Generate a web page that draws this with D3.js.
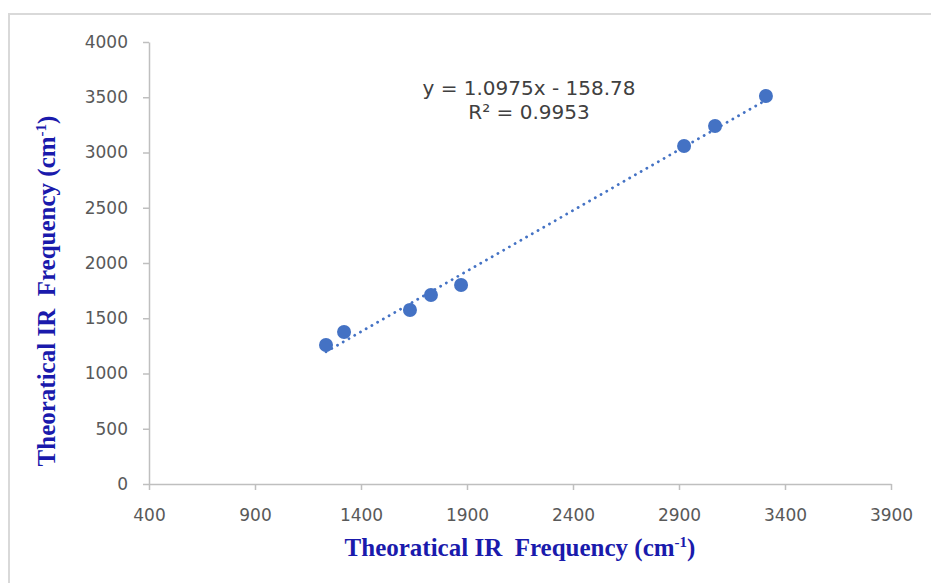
<!DOCTYPE html>
<html>
<head>
<meta charset="utf-8">
<script src="https://cdn.jsdelivr.net/npm/d3@7"></script>
<style>
  body { margin: 0; background: #fff; }
</style>
</head>
<body>
<svg id="chart"></svg>
<script>
// data
const expFreq = [1235, 1320, 1631, 1730, 1872, 2924, 3070, 3310];
const theoFreq = [1258, 1376, 1575, 1710, 1801, 3059, 3240, 3511];
const xTicks = [400, 900, 1400, 1900, 2400, 2900, 3400, 3900];
const yTicks = [0, 500, 1000, 1500, 2000, 2500, 3000, 3500, 4000];
const trendCoef = [1.0975, -158.78]; // slope, intercept
const equationLines = ["y = 1.0975x - 158.78", "R² = 0.9953"];

const width = 931, height = 583;
const margin = { top: 42, right: 40, bottom: 99, left: 149 };
const blue = "#4472C4";

const svg = d3.select("#chart").attr("width", width).attr("height", height);

// chart frame
svg.append("rect")
  .attr("x", 9).attr("y", 14)
  .attr("width", width + 10).attr("height", height + 10)
  .attr("fill", "none").attr("stroke", "#d9d9d9").attr("stroke-width", 2);

const x = d3.scaleLinear().domain([400, 3900]).range([margin.left, width - margin.right]);
const y = d3.scaleLinear().domain([0, 4000]).range([height - margin.bottom, margin.top]);

const axisStyle = (g) => {
  g.selectAll("path, line").attr("stroke", "#bfbfbf").attr("stroke-width", 1.5);
  g.selectAll("text")
    .attr("fill", "#595959")
    .style("font-family", "DejaVu Sans, Verdana, sans-serif")
    .style("font-size", "17px");
};

svg.append("g")
  .attr("transform", `translate(0,${y(0)})`)
  .call(d3.axisBottom(x).tickValues(xTicks).tickFormat(d3.format("d")).tickSizeInner(6).tickSizeOuter(0).tickPadding(19))
  .call(axisStyle);

svg.append("g")
  .attr("transform", `translate(${x(400)},0)`)
  .call(d3.axisLeft(y).tickValues(yTicks).tickFormat(d3.format("d")).tickSizeInner(6).tickSizeOuter(0).tickPadding(15))
  .call(axisStyle);

// trendline
const xs = d3.extent(expFreq);
const trend = xs.map((v) => [v, trendCoef[0] * v + trendCoef[1]]);
svg.append("path")
  .datum(trend)
  .attr("fill", "none")
  .attr("stroke", blue)
  .attr("stroke-width", 2.8)
  .attr("stroke-linecap", "round")
  .attr("stroke-dasharray", "0.1 6.5")
  .attr("d", d3.line().x((d) => x(d[0])).y((d) => y(d[1])));

// points
svg.append("g")
  .selectAll("circle")
  .data(expFreq.map((v, i) => [v, theoFreq[i]]))
  .join("circle")
  .attr("cx", (d) => x(d[0]))
  .attr("cy", (d) => y(d[1]))
  .attr("r", 7)
  .attr("fill", blue);

// equation label
svg.append("g")
  .selectAll("text")
  .data(equationLines)
  .join("text")
  .attr("x", 529)
  .attr("y", (d, i) => 95 + i * 24)
  .attr("text-anchor", "middle")
  .attr("fill", "#404040")
  .style("font-family", "DejaVu Sans, Verdana, sans-serif")
  .style("font-size", "20px")
  .text((d) => d);

// axis titles
const titleStyle = (t) =>
  t.attr("fill", "#1a1aac")
    .style("font-family", "Liberation Serif, Times New Roman, serif")
    .style("font-weight", "bold")
    .style("font-size", "25px")
    .attr("text-anchor", "middle");

const xt = svg.append("text")
  .attr("x", 520).attr("y", 556)
  .call(titleStyle);
xt.append("tspan").text("Theoratical IR\u00a0\u00a0Frequency (cm");
xt.append("tspan").attr("dy", -9).style("font-size", "15px").text("-1");
xt.append("tspan").attr("dy", 9).text(")");

const yt = svg.append("text")
  .attr("transform", "translate(55,291) rotate(-90)")
  .call(titleStyle);
yt.append("tspan").text("Theoratical IR\u00a0\u00a0Frequency (cm");
yt.append("tspan").attr("dy", -9).style("font-size", "15px").text("-1");
yt.append("tspan").attr("dy", 9).text(")");
</script>
</body>
</html>
